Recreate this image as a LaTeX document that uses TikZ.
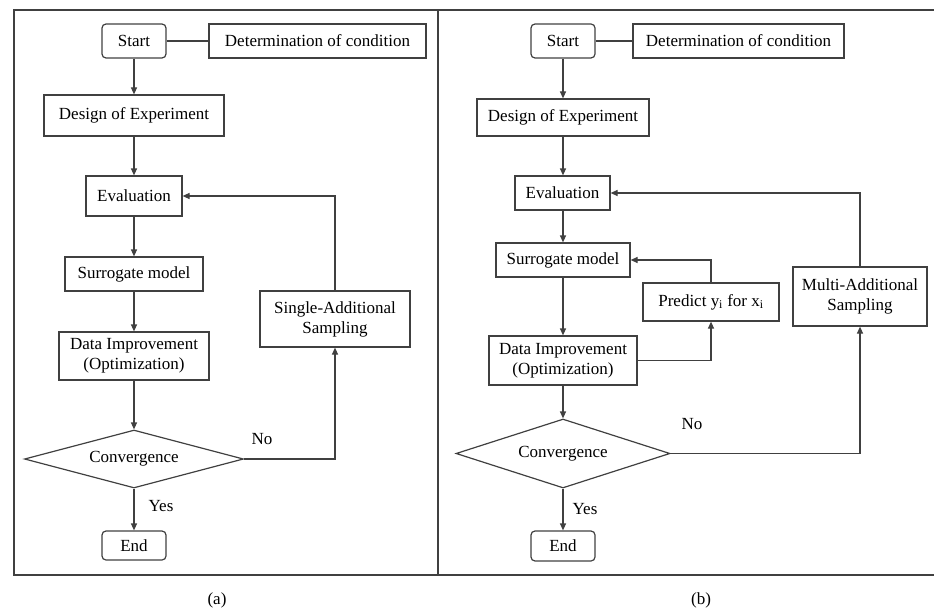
\documentclass[tikz,border=0pt]{standalone}
\usepackage{fontspec}
\setmainfont{Liberation Serif}
\usetikzlibrary{shapes.geometric,arrows.meta}
\definecolor{ln}{HTML}{404040}
\tikzset{
  base/.style={draw=ln,line width=1.2pt,inner sep=0pt,align=center,font=\fontsize{17}{20}\selectfont,text=black},
  rbox/.style={base,rectangle},
  rnd/.style={base,rectangle,rounded corners=4pt},
  dia/.style={base,diamond},
  conn/.style={draw=ln,line width=1.2pt},
  arr/.style={conn,-{Triangle[length=7pt,width=6pt]}},
  lbl/.style={font=\fontsize{17}{20}\selectfont,inner sep=0pt}
}
\begin{document}
\begin{tikzpicture}[x=1pt,y=-1pt]
\useasboundingbox (0,0) rectangle (934,615);
% frame
\draw[conn] (934,10) -- (14,10) -- (14,575) -- (934,575);
\draw[conn] (438,10) -- (438,575);

% ---------- panel (a)
\node[rnd,minimum width=64pt,minimum height=34pt] (startA) at (134,41) {Start};
\node[rbox,minimum width=217pt,minimum height=34pt] (detA) at (317.5,41) {Determination of condition};
\node[rbox,minimum width=180pt,minimum height=41pt] (doeA) at (134,115.5) {Design of Experiment};
\node[rbox,minimum width=96pt,minimum height=40pt] (evalA) at (134,196) {Evaluation};
\node[rbox,minimum width=138pt,minimum height=34pt] (surA) at (134,274) {Surrogate model};
\node[rbox,minimum width=150pt,minimum height=56pt] (singleA) at (335,319) {Single-Additional\\Sampling};
\node[rbox,minimum width=150pt,minimum height=48pt] (dataA) at (134,356) {Data Improvement\\(Optimization)};
\node[dia,aspect=3.78,minimum width=219pt,minimum height=58pt] (convA) at (134,459) {Convergence};
\node[rnd,minimum width=64pt,minimum height=29pt] (endA) at (134,545.5) {End};

\draw[conn] (startA) -- (detA);
\draw[arr] (startA) -- (doeA);
\draw[arr] (doeA) -- (evalA);
\draw[arr] (evalA) -- (surA);
\draw[arr] (surA) -- (dataA);
\draw[arr] (dataA) -- (convA);
\draw[arr] (convA) -- (endA);
\draw[arr] (convA.east) -| (singleA.south);
\draw[arr] (singleA.north) |- (evalA.east);
\node[lbl] (noA) at (262,439) {No};
\node[lbl] (yesA) at (161,506) {Yes};
\node[lbl] (capA) at (217,600) {(a)};

% ---------- panel (b)
\node[rnd,minimum width=64pt,minimum height=34pt] (startB) at (563,41) {Start};
\node[rbox,minimum width=211pt,minimum height=34pt] (detB) at (738.5,41) {Determination of condition};
\node[rbox,minimum width=172pt,minimum height=37pt] (doeB) at (563,117.5) {Design of Experiment};
\node[rbox,minimum width=95pt,minimum height=34pt] (evalB) at (562.5,193) {Evaluation};
\node[rbox,minimum width=134pt,minimum height=34pt] (surB) at (563,260) {Surrogate model};
\node[rbox,minimum width=136pt,minimum height=38pt] (predB) at (711,302) {Predict y\textsubscript{i} for x\textsubscript{i}};
\node[rbox,minimum width=134pt,minimum height=59pt] (multiB) at (860,296.5) {Multi-Additional\\Sampling};
\node[rbox,minimum width=148pt,minimum height=49pt] (dataB) at (563,360.5) {Data Improvement\\(Optimization)};
\node[dia,aspect=3.1,minimum width=214pt,minimum height=69pt] (convB) at (563,453.5) {Convergence};
\node[rnd,minimum width=64pt,minimum height=30pt] (endB) at (563,546) {End};

\draw[conn] (startB) -- (detB);
\draw[arr] (startB) -- (doeB);
\draw[arr] (doeB) -- (evalB.north -| doeB);
\draw[arr] (evalB.south -| surB) -- (surB);
\draw[arr] (surB) -- (dataB);
\draw[arr] (dataB) -- (convB);
\draw[arr] (convB) -- (endB);
\draw[arr] (dataB.east) -| (predB.south);
\draw[arr] (predB.north) |- (surB.east);
\draw[arr] (convB.east) -| (multiB.south);
\draw[arr] (multiB.north) |- (evalB.east);
\node[lbl] (noB) at (692,424) {No};
\node[lbl] (yesB) at (585,509) {Yes};
\node[lbl] (capB) at (701,600) {(b)};
\end{tikzpicture}
\end{document}
